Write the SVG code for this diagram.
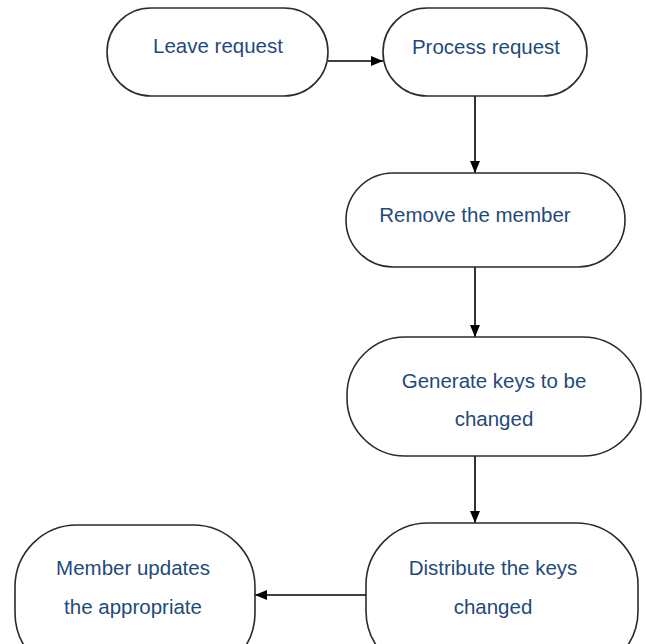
<svg xmlns="http://www.w3.org/2000/svg" width="646" height="644" viewBox="0 0 646 644">
  <style>
    .node rect { fill: #ffffff; stroke: #2b2b2b; stroke-width: 1.6; }
    .node text { font-family: "Liberation Sans", Arial, sans-serif; font-size: 20.5px; fill: #1f4a7c; text-anchor: middle; }
    .edge { stroke: #000000; stroke-width: 1.6; fill: none; marker-end: url(#arrow); }
  </style>
  <defs>
    <marker id="arrow" viewBox="0 0 12 10" refX="12" refY="5" markerWidth="12" markerHeight="10" markerUnits="userSpaceOnUse" orient="auto">
      <path d="M0,0 L12,5 L0,10 z" fill="#000000"/>
    </marker>
  </defs>
  <rect width="646" height="644" fill="#ffffff"/>

  <g id="connectors">
    <line class="edge" x1="328" y1="61" x2="383" y2="61"/>
    <line class="edge" x1="475" y1="96" x2="475" y2="173"/>
    <line class="edge" x1="475" y1="267" x2="475" y2="337"/>
    <line class="edge" x1="475" y1="456" x2="475" y2="523"/>
    <line class="edge" x1="366" y1="595" x2="255" y2="595"/>
  </g>

  <g id="leave-request" class="node">
    <rect x="107" y="8" width="221" height="88" rx="44" ry="44"/>
    <text x="218" y="53">Leave request</text>
  </g>

  <g id="process-request" class="node">
    <rect x="383" y="8" width="204" height="88" rx="44" ry="44"/>
    <text x="486" y="54">Process request</text>
  </g>

  <g id="remove-member" class="node">
    <rect x="346" y="173" width="279" height="94" rx="47" ry="47"/>
    <text x="475" y="222">Remove the member</text>
  </g>

  <g id="generate-keys" class="node">
    <rect x="347" y="337" width="294" height="119" rx="58" ry="58"/>
    <text x="494" y="388">Generate keys to be</text>
    <text x="494" y="426">changed</text>
  </g>

  <g id="distribute-keys" class="node">
    <rect x="366" y="523" width="272" height="150" rx="62" ry="62"/>
    <text x="493" y="575">Distribute the keys</text>
    <text x="493" y="614">changed</text>
  </g>

  <g id="member-updates" class="node">
    <rect x="15" y="525" width="240" height="150" rx="62" ry="62"/>
    <text x="133" y="575">Member updates</text>
    <text x="133" y="614">the appropriate</text>
  </g>
</svg>
